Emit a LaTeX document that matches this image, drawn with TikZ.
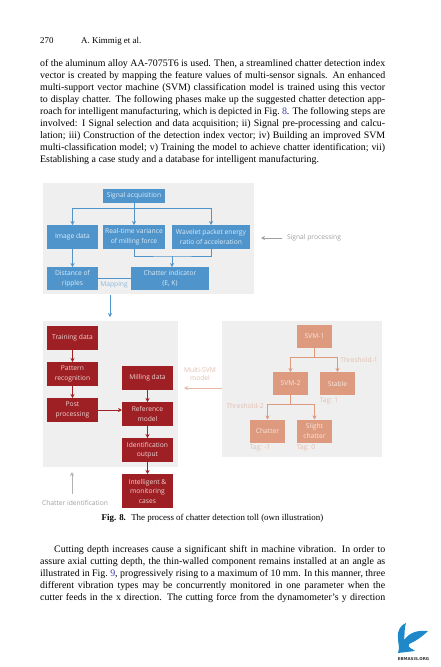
\documentclass[tikz,border=0pt]{standalone}
\usepackage{fontspec}
\setmainfont{Liberation Serif}
\newfontfamily\figfont{Open Sans}
\newfontfamily\logofont{DejaVu Sans}
\usetikzlibrary{
    positioning,      % relative placement of the boxes
    arrows.meta       % arrow tips
}
\definecolor{panel_grey}{HTML}{EFEFEF}
\definecolor{sig_blue}{HTML}{4F95CC}
\definecolor{sig_text}{HTML}{DCEAF5}
\definecolor{chat_red}{HTML}{9E2024}
\definecolor{chat_text}{HTML}{EBD3D3}
\definecolor{svm_salmon}{HTML}{DD9A7E}
\definecolor{svm_text}{HTML}{F7E6DE}
\definecolor{svm_label}{HTML}{E2BFB0}
\definecolor{note_grey}{HTML}{A0A0A0}
\definecolor{link_blue}{HTML}{3A3AB0}
\definecolor{logo_blue}{HTML}{1E88C8}

\begin{document}
\begin{tikzpicture}[
    x=1pt, y=-1pt,
    % Style for the grey panels
    panel_style/.style={fill=panel_grey, draw=none},
    % Boxes of the three parts
    box_style/.style={
        inner sep=0pt, outer sep=0pt, align=center,
        font=\figfont\fontsize{6.7}{9.5}\selectfont
    },
    blue_box/.style={box_style, fill=sig_blue, text=sig_text},
    red_box/.style={box_style, fill=chat_red, text=chat_text, minimum width=51pt, minimum height=24pt},
    svm_box/.style={box_style, fill=svm_salmon, text=svm_text, minimum width=35pt, minimum height=23pt},
    % Lines
    blue_line/.style={draw=sig_blue, line width=1pt},
    red_line/.style={draw=chat_red, line width=1pt},
    svm_line/.style={draw=svm_salmon, line width=1pt},
    arrow_tip/.style={-{Stealth[length=4pt, width=4pt]}},
    % Text beside the boxes
    note_style/.style={font=\figfont\fontsize{6.7}{8.5}\selectfont, inner sep=0pt, align=center},
    page_text/.style={anchor=north west, inner sep=0pt, text width=345pt, align=justify,
        font=\fontsize{9.9}{12}\selectfont}
]
    \useasboundingbox (0,0) rectangle (440,667);
    \fill[white] (0,0) rectangle (440,667);

    % 1. Page text above the figure.
    \node[anchor=base west, inner sep=0pt, font=\fontsize{8.9}{10}\selectfont] (page_no) at (40,43) {270};
    \node[anchor=base west, inner sep=0pt, font=\fontsize{8.9}{10}\selectfont] (page_head) at (81,43) {A. Kimmig et al.};
    \node[page_text] (text_top) at (40,59.5) {of the aluminum alloy AA-7075T6 is used. Then, a streamlined chatter detection index\linebreak
        vector is created by mapping the feature values of multi-sensor signals. An enhanced\linebreak
        multi-support vector machine (SVM) classification model is trained using this vector\linebreak
        to display chatter. The following phases make up the suggested chatter detection app-\linebreak
        roach for intelligent manufacturing, which is depicted in Fig.~\textcolor{link_blue}{8}. The following steps are\linebreak
        involved: I Signal selection and data acquisition; ii) Signal pre-processing and calcu-\linebreak
        lation; iii) Construction of the detection index vector; iv) Building an improved SVM\linebreak
        multi-classification model; v) Training the model to achieve chatter identification; vii)\linebreak
        Establishing a case study and a database for intelligent manufacturing.\par};

    % 2. Grey panels.
    \fill[panel_style] (43,183) rectangle (254,294);
    \fill[panel_style] (43,321) rectangle (178,467);
    \fill[panel_style] (222,321) rectangle (382,457);

    % 3. Signal processing boxes.
    \node[blue_box, minimum width=62pt, minimum height=14pt] (signal_acq) at (134,196) {Signal acquisition};
    \node[blue_box, minimum width=51pt, minimum height=24pt] (image_data) at (72.5,237) {Image data};
    \node[blue_box, minimum width=62pt, minimum height=24pt] (real_time) at (134,237) {Real-time variance\\of milling force};
    \node[blue_box, minimum width=78pt, minimum height=24pt] (wavelet) at (211,237) {Wavelet packet energy\\ratio of acceleration};
    \node[blue_box, minimum width=51pt, minimum height=23pt] (distance) at (72.5,278.5) {Distance of\\ripples};
    \node[blue_box, minimum width=78pt, minimum height=23pt] (chatter_ind) at (170,278.5) {Chatter indicator\\(E, K)};

    \coordinate (acq_bus) at (134,208);
    \coordinate (merge_bus) at (172,256);
    \draw[blue_line, arrow_tip] (signal_acq.south) -- (real_time.north);
    \draw[blue_line, arrow_tip] (acq_bus) -| (image_data.north);
    \draw[blue_line, arrow_tip] (acq_bus) -| (wavelet.north);
    \draw[blue_line, arrow_tip] (image_data.south) -- (distance.north);
    \draw[blue_line] (real_time.south) |- (merge_bus) -| (wavelet.south);
    \draw[blue_line, arrow_tip] (merge_bus) -- (merge_bus |- chatter_ind.north);
    \draw[blue_line] (distance.east) -- (chatter_ind.west);
    \node[note_style, text=sig_blue!65] (mapping) at (114,284.5) {Mapping};

    \coordinate (map_start) at (110,295);
    \coordinate (map_end) at (110,317);
    \draw[blue_line, arrow_tip] (map_start) -- (map_end);

    \node[note_style, text=note_grey] (signal_note) at (314,238) {Signal processing};
    \coordinate (signal_end) at (261,238);
    \draw[draw=note_grey, line width=0.7pt, arrow_tip] (signal_note.west) ++(-5,0) -- (signal_end);

    % 4. Chatter identification boxes.
    \node[red_box] (training) at (72.5,338) {Training data};
    \node[red_box, below=12pt of training] (pattern) {Pattern\\recognition};
    \node[red_box, below=12pt of pattern] (post) {Post\\processing};
    \node[red_box] (milling) at (147.5,378) {Milling data};
    \node[red_box, below=12pt of milling] (reference) {Reference\\model};
    \node[red_box, below=12pt of reference] (identification) {Identification\\output};
    \node[red_box, below=12pt of identification, minimum height=34pt] (intelligent) {Intelligent \&\\monitoring\\cases};

    \draw[red_line, arrow_tip] (training) -- (pattern);
    \draw[red_line, arrow_tip] (pattern) -- (post);
    \draw[red_line, arrow_tip] (post) -- (post -| reference.west);
    \draw[red_line, arrow_tip] (milling) -- (reference);
    \draw[red_line, arrow_tip] (reference) -- (identification);
    \draw[red_line, arrow_tip] (identification) -- (intelligent);

    \node[note_style, text=note_grey] (chatter_note) at (75,503) {Chatter identification};
    \coordinate (chatter_start) at (72,494);
    \coordinate (chatter_end) at (72,472);
    \draw[draw=note_grey!80, line width=0.7pt, arrow_tip] (chatter_start) -- (chatter_end);

    % 5. Multi-SVM boxes.
    \node[svm_box] (svm_one) at (314.5,336.5) {SVM-1};
    \node[svm_box] (svm_two) at (290.5,383.5) {SVM-2};
    \node[svm_box] (stable) at (337.5,383.5) {Stable};
    \node[svm_box] (chatter) at (267.5,431) {Chatter};
    \node[svm_box] (slight) at (314.5,431) {Slight\\chatter};

    \coordinate (svm_one_bus) at (314.5,357);
    \coordinate (svm_two_bus) at (290.5,404);
    \draw[svm_line] (svm_one) -- (svm_one_bus);
    \draw[svm_line, arrow_tip] (svm_one_bus) -| (svm_two.north);
    \draw[svm_line, arrow_tip] (svm_one_bus) -| (stable.north);
    \draw[svm_line] (svm_two) -- (svm_two_bus);
    \draw[svm_line, arrow_tip] (svm_two_bus) -| (chatter.north);
    \draw[svm_line, arrow_tip] (svm_two_bus) -| (slight.north);

    \node[note_style, text=svm_label] (threshold_one) at (359,360) {Threshold-1};
    \node[note_style, text=svm_label] (threshold_two) at (245,406) {Threshold-2};
    \node[note_style, text=svm_label] (tag_stable) at (329,401) {Tag: 1};
    \node[note_style, text=svm_label] (tag_chatter) at (260,448) {Tag: -1};
    \node[note_style, text=svm_label] (tag_slight) at (306,448) {Tag: 0};

    \node[note_style, text=svm_label] (multi_svm) at (200,374) {Multi-SVM\\model};
    \coordinate (multi_start) at (222,388);
    \coordinate (multi_end) at (184,388);
    \draw[draw=svm_salmon!70, line width=0.7pt, arrow_tip] (multi_start) -- (multi_end);

    % 6. Caption and page text below the figure.
    \node[inner sep=0pt, font=\fontsize{8.9}{10}\selectfont] (caption) at (212.5,518.5) {\textbf{Fig. 8.}\hspace{0.6em}The process of chatter detection toll (own illustration)};
    \node[page_text] (text_bottom) at (40,545.5) {\hspace*{14pt}Cutting depth increases cause a significant shift in machine vibration. In order to\linebreak
        assure axial cutting depth, the thin-walled component remains installed at an angle as\linebreak
        illustrated in Fig.~\textcolor{link_blue}{9}, progressively rising to a maximum of 10 mm. In this manner, three\linebreak
        different vibration types may be concurrently monitored in one parameter when the\linebreak
        cutter feeds in the x direction. The cutting force from the dynamometer's y direction\linebreak};

    % 7. Logo in the corner.
    \fill[logo_blue] (398,638) .. controls (397,630) and (401,625) .. (406,623) .. controls (404,629) and (405,634) .. (404,640) .. controls (410,632) and (418,630) .. (428,631) .. controls (423,636) and (416,641) .. (409,644) .. controls (407,648) and (412,648) .. (415,651) -- (398,653) .. controls (400,648) and (398,643) .. (398,638) -- cycle;
    \node[inner sep=0pt, font=\logofont\bfseries\fontsize{4}{5}\selectfont, text=black!80] (logo_text) at (413.5,659) {EBMASIS.ORG};
\end{tikzpicture}
\end{document}
